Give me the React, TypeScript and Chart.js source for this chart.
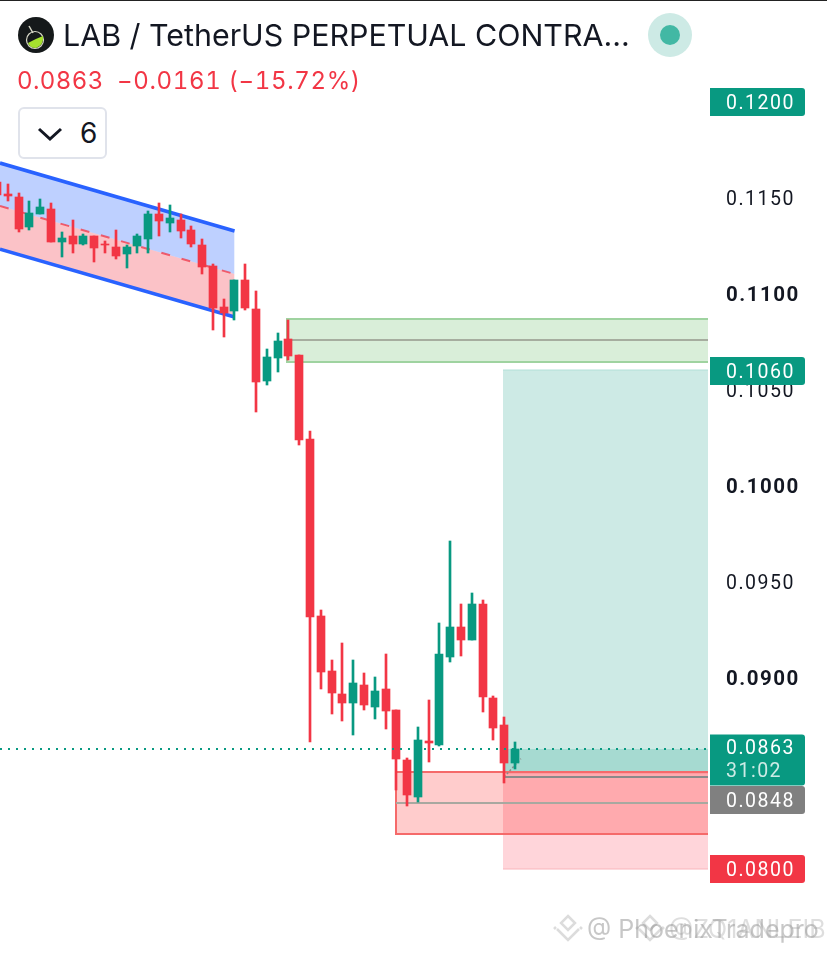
import React, { useEffect, useRef } from "react";
import { Chart, registerables } from "chart.js";

Chart.register(...registerables);

const GREEN = "#089981";
const RED = "#f23645";

// candle index -1 .. 47
const candleIndex = [-1, 0, 1, 2, 3, 4, 5, 6, 7, 8, 9, 10, 11, 12, 13, 14, 15, 16, 17, 18, 19, 20, 21, 22, 23, 24, 25, 26, 27, 28, 29, 30, 31, 32, 33, 34, 35, 36, 37, 38, 39, 40, 41, 42, 43, 44, 45, 46, 47];
const opens = [0.11583, 0.11521, 0.11505, 0.11349, 0.11417, 0.11443, 0.11271, 0.11302, 0.1126, 0.11302, 0.1126, 0.11245, 0.11208, 0.1125, 0.11287, 0.11417, 0.1137, 0.11385, 0.11333, 0.11255, 0.11146, 0.10932, 0.10911, 0.11073, 0.10922, 0.10547, 0.10667, 0.10766, 0.10682, 0.10245, 0.09323, 0.09036, 0.08917, 0.0887, 0.08964, 0.08849, 0.08943, 0.08833, 0.08573, 0.0838, 0.08672, 0.08651, 0.09109, 0.09266, 0.09198, 0.09385, 0.08896, 0.08755, 0.08557];
const highs = [0.11604, 0.11573, 0.11526, 0.11484, 0.11495, 0.11474, 0.11323, 0.11385, 0.11312, 0.11302, 0.11276, 0.11333, 0.11255, 0.11312, 0.11432, 0.11474, 0.11464, 0.11417, 0.11354, 0.11287, 0.11156, 0.10974, 0.11073, 0.11156, 0.11016, 0.10714, 0.10797, 0.10865, 0.10682, 0.10286, 0.09354, 0.09094, 0.09182, 0.09094, 0.09026, 0.09005, 0.09125, 0.08833, 0.08583, 0.08745, 0.08885, 0.09286, 0.09714, 0.09385, 0.09443, 0.09406, 0.08906, 0.08797, 0.08667];
const lows = [0.115, 0.11484, 0.11323, 0.11333, 0.11417, 0.11271, 0.11193, 0.11214, 0.11255, 0.11167, 0.11214, 0.11182, 0.11135, 0.11214, 0.11214, 0.11302, 0.11323, 0.11292, 0.11245, 0.11104, 0.10813, 0.10776, 0.10865, 0.10917, 0.10385, 0.10526, 0.10594, 0.10656, 0.10214, 0.08667, 0.08943, 0.08813, 0.08776, 0.08703, 0.08833, 0.08786, 0.08734, 0.08417, 0.08333, 0.08354, 0.08563, 0.08646, 0.09083, 0.09115, 0.09198, 0.08823, 0.08677, 0.08453, 0.08526];
const closes = [0.11516, 0.1151, 0.11339, 0.11422, 0.11453, 0.11271, 0.11292, 0.1126, 0.11302, 0.1124, 0.11255, 0.11198, 0.11245, 0.11302, 0.11417, 0.1138, 0.11396, 0.11328, 0.1126, 0.11141, 0.10927, 0.10901, 0.11073, 0.10927, 0.10542, 0.10672, 0.10755, 0.10677, 0.1024, 0.09318, 0.09031, 0.08922, 0.0887, 0.08974, 0.08859, 0.08932, 0.08828, 0.08578, 0.08391, 0.08677, 0.08661, 0.09125, 0.09266, 0.09198, 0.09385, 0.08901, 0.0874, 0.08557, 0.0863];

// regression channel
const channelX = [-0.7766, 20.96];
const channelTop = [0.11682, 0.11328];
const channelMid = [0.11458, 0.11104];
const channelBottom = [0.11234, 0.1088];

const lastPrice = 0.0863;
const tickValues = [0.08, 0.085, 0.09, 0.095, 0.1, 0.105, 0.11, 0.115, 0.12];
const boldTicks = [0.09, 0.1, 0.11];

const priceTags = [
  { value: 0.12, label: "0.1200", sub: "", fill: GREEN, h: 28, dy: 0 },
  { value: 0.106, label: "0.1060", sub: "", fill: GREEN, h: 28, dy: 0 },
  { value: 0.0863, label: "0.0863", sub: "31:02", fill: GREEN, h: 51, dy: 11 },
  { value: 0.0848, label: "0.0848", sub: "", fill: "#808080", h: 28, dy: 22 },
  { value: 0.08, label: "0.0800", sub: "", fill: RED, h: 28, dy: -1 },
];

const zones = [
  { x0: 25.82, x1: 64.84, top: 0.1087, bottom: 0.10646, fill: "#d9eed9", stroke: "#9fd3a0", sw: 2, left: true },
  { x0: 45.84, x1: 64.84, top: 0.10603, bottom: 0.08503, fill: "#cdeae5", stroke: "#b2e0d8", sw: 1, left: false },
  { x0: 45.84, x1: 64.84, top: 0.0863, bottom: 0.08503, fill: "rgba(8,153,129,0.2)", stroke: "", sw: 0, left: false },
  { x0: 45.84, x1: 64.84, top: 0.08503, bottom: 0.08005, fill: "#ffd5da", stroke: "#f9b4bb", sw: 1, left: false },
  { x0: 35.92, x1: 64.84, top: 0.08508, bottom: 0.08188, fill: "rgba(255,0,0,0.2)", stroke: "#f56a6a", sw: 2, left: true },
];
const zoneLines = [
  { x0: 25.82, x1: 64.84, y: 0.1076, color: "#a6ad9f", w: 2, dash: [] as number[] },
  { x0: 35.92, x1: 64.84, y: 0.08349, color: "#a8a8a0", w: 2, dash: [] as number[] },
  { x0: 45.9, x1: 64.84, y: 0.08485, color: "#8a8a8a", w: 2, dash: [] as number[] },
];
const arrowX = [45.95, 47.5];
const arrowY = [0.08485, 0.0858];

const xMin = -0.7766;
const xMax = 64.84;
const yMax = 0.1253125;
const yMin = 0.075677;

const snapBars = {
  id: "snapBars",
  afterDatasetsUpdate(chart: any) {
    chart.data.datasets.forEach((d: any, i: number) => {
      if (d.type !== "bar") return;
      chart.getDatasetMeta(i).data.forEach((el: any) => {
        el.x = Math.floor(el.x);
        el.y = Math.round(el.y);
        el.base = Math.round(el.base);
        if (el.y === el.base) el.base += 1;
        el.height = Math.abs(el.base - el.y);
      });
    });
  },
  beforeDraw(chart: any) {
    chart.ctx.letterSpacing = "1.5px";
    // nudge the axis labels to the reference's text baseline
    const items = chart.scales.y.getLabelItems();
    items.forEach((it: any) => {
      if (!it.nudged) {
        it.options.translation[1] += 2;
        it.nudged = true;
      }
    });
  },
};

const zonesPlugin = {
  id: "zones",
  beforeDatasetsDraw(chart: any) {
    const { ctx, scales: { x, y } } = chart;
    ctx.save();
    zones.forEach((z) => {
      const l = Math.round(x.getPixelForValue(z.x0));
      const r = Math.round(x.getPixelForValue(z.x1));
      const t = Math.round(y.getPixelForValue(z.top));
      const b = Math.round(y.getPixelForValue(z.bottom));
      ctx.fillStyle = z.fill;
      ctx.fillRect(l, t, r - l, b - t);
      if (z.sw) {
        ctx.strokeStyle = z.stroke;
        ctx.lineWidth = z.sw;
        ctx.beginPath();
        ctx.moveTo(r, t);
        ctx.lineTo(l, t);
        if (z.left) ctx.lineTo(l, b);
        else ctx.moveTo(l, b);
        ctx.lineTo(r, b);
        ctx.stroke();
      }
    });
    zoneLines.forEach((s) => {
      const py = Math.round(y.getPixelForValue(s.y));
      ctx.strokeStyle = s.color;
      ctx.lineWidth = s.w;
      ctx.setLineDash(s.dash);
      ctx.beginPath();
      ctx.moveTo(Math.round(x.getPixelForValue(s.x0)), py);
      ctx.lineTo(Math.round(x.getPixelForValue(s.x1)), py);
      ctx.stroke();
    });
    ctx.restore();
  },
};

const tagsPlugin = {
  id: "tags",
  afterDraw(chart: any) {
    const { ctx, scales: { y }, chartArea } = chart;
    ctx.save();
    priceTags.forEach((t) => {
      const c = Math.round(y.getPixelForValue(t.value)) + t.dy;
      const left = chartArea.right + 2;
      ctx.fillStyle = t.fill;
      ctx.beginPath();
      ctx.roundRect(left, c - t.h / 2, 95, t.h, [0, 3, 3, 0]);
      ctx.fill();
      ctx.textBaseline = "middle";
      ctx.textAlign = "left";
      ctx.fillStyle = "#ffffff";
      ctx.font = "19.5px Roboto";
      ctx.letterSpacing = "1.5px";
      if (t.sub) {
        ctx.fillText(t.label, 726, c - 11);
        ctx.globalAlpha = 0.8;
        ctx.fillText(t.sub, 726, c + 12);
        ctx.globalAlpha = 1;
      } else {
        ctx.fillText(t.label, 726, c + 2);
      }
    });
    ctx.restore();
  },
};

export default function App() {
  const ref = useRef<HTMLCanvasElement>(null);
  useEffect(() => {
    const colors = opens.map((o, i) => (closes[i] >= o ? GREEN : RED));
    const chart = new Chart(ref.current as HTMLCanvasElement, {
      type: "bar",
      data: {
        datasets: [
          {
            type: "line",
            data: channelX.map((x, i) => ({ x, y: channelTop[i] })),
            borderColor: "#2962ff",
            borderWidth: 3.5,
            pointRadius: 0,
            fill: "+1",
            backgroundColor: "rgba(41,98,255,0.3)",
            order: 12,
          },
          {
            type: "line",
            data: channelX.map((x, i) => ({ x, y: channelMid[i] })),
            borderColor: "rgba(242,54,69,0.75)",
            borderWidth: 2,
            borderDash: [9, 12],
            pointRadius: 0,
            fill: "+1",
            backgroundColor: "rgba(242,54,69,0.3)",
            order: 11,
          },
          {
            type: "line",
            data: channelX.map((x, i) => ({ x, y: channelBottom[i] })),
            borderColor: "#2962ff",
            borderWidth: 3.5,
            pointRadius: 0,
            fill: false,
            order: 10,
          },
          {
            type: "line",
            data: arrowX.map((x, i) => ({ x, y: arrowY[i] })),
            borderColor: "#8a8a8a",
            borderWidth: 1.5,
            borderDash: [2, 2],
            pointRadius: 0,
            fill: false,
            order: 5,
          },
          {
            type: "bar",
            data: candleIndex.map((x, i) => ({ x, y: [lows[i], highs[i]] })),
            backgroundColor: colors,
            barThickness: 2,
            grouped: false,
            order: 3,
          },
          {
            type: "bar",
            data: candleIndex.map((x, i) => ({ x, y: [opens[i], closes[i]] })),
            backgroundColor: colors,
            barThickness: 8,
            grouped: false,
            order: 2,
          },
          {
            type: "line",
            data: [{ x: xMin, y: lastPrice }, { x: xMax, y: lastPrice }],
            borderColor: GREEN,
            borderWidth: 2,
            borderDash: [2, 6],
            pointRadius: 0,
            fill: false,
            order: 1,
          },
        ] as any,
      },
      options: {
        animation: false,
        responsive: false,
        maintainAspectRatio: false,
        devicePixelRatio: 1,
        layout: { padding: 0 },
        plugins: { legend: { display: false }, tooltip: { enabled: false }, title: { display: false } },
        scales: {
          x: { type: "linear", min: xMin, max: xMax, offset: false, display: false },
          y: {
            type: "linear",
            position: "right",
            min: yMin,
            max: yMax,
            grid: { display: false, drawTicks: false },
            border: { display: false },
            afterFit(s: any) {
              s.width = 119;
              s.paddingTop = 0;
              s.paddingBottom = 0;
            },
            afterBuildTicks(s: any) { s.ticks = tickValues.map((value) => ({ value })); },
            ticks: {
              padding: 18,
              color: "#131722",
              autoSkip: false,
              maxRotation: 0,
              callback: (v: any) => Number(v).toFixed(4),
              font: (c: any) => {
                const bold = boldTicks.includes(c.tick?.value);
                return { family: "Roboto", size: bold ? 20.5 : 19.5, weight: bold ? "bold" : "normal" };
              },
            },
          },
        },
      } as any,
      plugins: [snapBars, zonesPlugin, tagsPlugin],
    });
    return () => chart.destroy();
  }, []);

  const font = "Inter, 'Noto Sans', sans-serif";
  const abs: React.CSSProperties = { position: "absolute", whiteSpace: "nowrap", fontFamily: font };
  const diamond = (left: number) => (
    <svg width={32} height={32} style={{ position: "absolute", left, top: 913 }} viewBox="0 0 32 32">
      <g fill="none" stroke="#dcdcdc" strokeWidth={2.5}>
        <path d="M16 3 L23 10 L16 17 L9 10 Z" />
        <path d="M5 16 L10 21 L16 27 L22 21 L27 16" />
        <path d="M2 16 L4 14 M30 16 L28 14" />
      </g>
    </svg>
  );
  return (
    <div style={{ position: "absolute", left: 0, top: 0, width: 827, height: 953, overflow: "hidden", background: "#fff" }}>
      <canvas ref={ref} width={827} height={953} style={{ display: "block", position: "absolute", left: 0, top: 0 }} />
      <div style={{ position: "absolute", left: 0, top: 0, width: 827, height: 1, background: "#222" }} />
      <svg width={36} height={36} style={{ position: "absolute", left: 18, top: 17 }} viewBox="0 0 36 36">
        <circle cx={18} cy={18} r={18} fill="#15191a" />
        <circle cx={17} cy={23} r={8.5} fill="none" stroke="#d8d8c8" strokeWidth={1.2} />
        <path d="M10 26 Q17 22 25 19 Q26 28 18 31 Q12 31 10 26Z" fill="#a6e22e" />
        <path d="M11 9 L15 16" stroke="#d8d8c8" strokeWidth={1.5} />
      </svg>
      <div style={{ ...abs, left: 63, top: 15, fontSize: 30.4, lineHeight: "40px", color: "#131722" }}>LAB / TetherUS PERPETUAL CONTRA...</div>
      <div style={{ position: "absolute", left: 648, top: 13, width: 44, height: 44, borderRadius: 22, background: "#cdeae5" }} />
      <div style={{ position: "absolute", left: 660, top: 25, width: 20, height: 20, borderRadius: 10, background: "#42b8a4" }} />
      <div style={{ ...abs, left: 17, top: 66, fontSize: 24, lineHeight: "30px", color: RED, fontVariantNumeric: "tabular-nums", letterSpacing: 0.4 }}>0.0863</div>
      <div style={{ ...abs, left: 117, top: 66, fontSize: 24, lineHeight: "30px", color: RED, fontVariantNumeric: "tabular-nums", letterSpacing: 0.65 }}>−0.0161 (−15.72%)</div>
      <div style={{ position: "absolute", left: 18, top: 107, width: 85, height: 48, border: "2px solid #e0e3eb", borderRadius: 6, background: "#fff" }} />
      <svg width={26} height={16} style={{ position: "absolute", left: 37, top: 126 }} viewBox="0 0 26 16">
        <path d="M2 3 L13 13 L24 3" fill="none" stroke="#131722" strokeWidth={3} />
      </svg>
      <div style={{ ...abs, left: 80, top: 113, fontSize: 28, lineHeight: "40px", color: "#131722" }}>6</div>
      {diamond(552)}
      {diamond(634)}
      <div style={{ ...abs, left: 587, top: 914, fontSize: 25, lineHeight: "30px", color: "rgba(130,130,130,0.45)" }}>@ PhoenixTradepro</div>
      <div style={{ ...abs, left: 669, top: 914, fontSize: 25, lineHeight: "30px", color: "rgba(160,160,160,0.35)" }}>@ZQ1ANLEIB</div>
    </div>
  );
}
